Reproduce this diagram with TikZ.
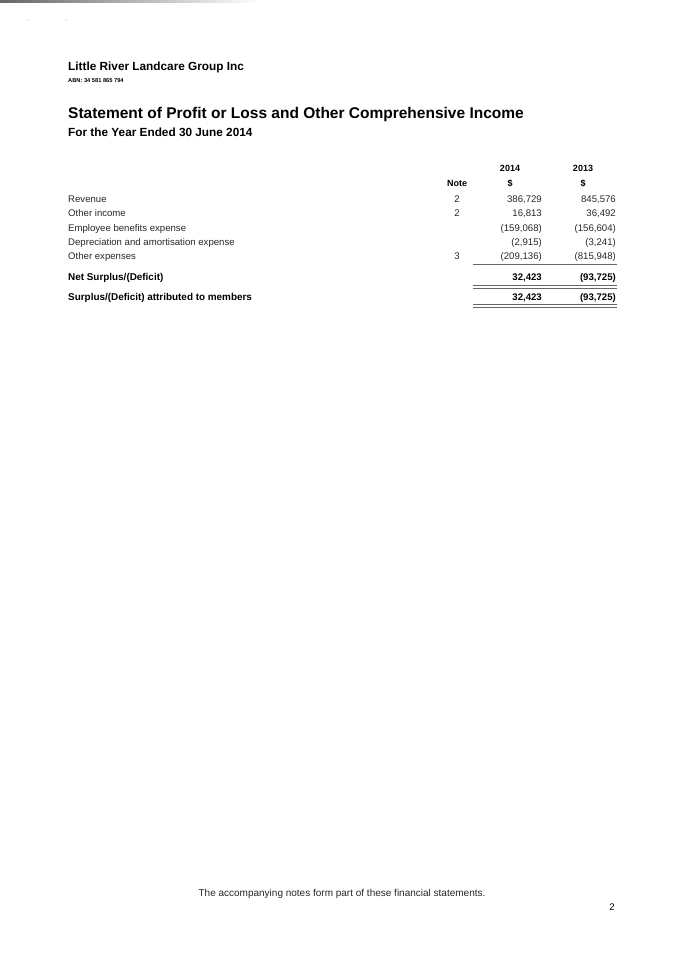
\documentclass[tikz,border=0pt]{standalone}
\usepackage{fontspec}
\setmainfont{Liberation Sans}
\begin{document}
\begin{tikzpicture}[x=1pt,y=-1pt,
  lbl/.style={anchor=base west,inner sep=0pt,font=\fontsize{9.6}{10}\selectfont,text=black!85},
  num/.style={anchor=base east,inner sep=0pt,font=\fontsize{9.6}{10}\selectfont,text=black!85},
  note/.style={anchor=base,inner sep=0pt,font=\fontsize{9.6}{10}\selectfont,text=black!85},
  hd/.style={anchor=base,inner sep=0pt,font=\bfseries\fontsize{9}{10}\selectfont},
  bl/.style={anchor=base west,inner sep=0pt,font=\bfseries\fontsize{9.9}{10}\selectfont},
  bn/.style={anchor=base east,inner sep=0pt,font=\bfseries\fontsize{9.6}{10}\selectfont},
  rule/.style={line width=1pt,black!60}]
\useasboundingbox (0,0) rectangle (683,963);
\fill[left color=black!60,right color=white] (0,1) rectangle (260,3);
\fill[black!50] (28,20) circle (0.5) (66,20) circle (0.5);
\node[anchor=base west,inner sep=0pt,font=\bfseries\fontsize{11.8}{13}\selectfont] (co) at (68,71) {Little River Landcare Group Inc};
\node[anchor=base west,inner sep=0pt,font=\bfseries\fontsize{5.7}{6}\selectfont] (abn) at (68,83) {ABN: 34 581 865 794};
\node[anchor=base west,inner sep=0pt,font=\bfseries\fontsize{15.5}{17}\selectfont] (ti) at (68,119) {Statement of Profit or Loss and Other Comprehensive Income};
\node[anchor=base west,inner sep=0pt,font=\bfseries\fontsize{11.8}{13}\selectfont] (sub) at (68,136) {For the Year Ended 30 June 2014};
\node[hd] (y1) at (510,171) {2014};
\node[hd] (y2) at (583,171) {2013};
\node[hd] (nh) at (457,186) {Note};
\node[hd] (d1) at (510,186) {\$};
\node[hd] (d2) at (583,186) {\$};
\foreach \n/\y/\t/\no/\va/\vb in {r1/202/Revenue/2/{386,729}/{845,576},
  r2/216/Other income/2/{16,813}/{36,492},
  r3/231/Employee benefits expense//{(159,068)}/{(156,604)},
  r4/245/Depreciation and amortisation expense//{(2,915)}/{(3,241)},
  r5/259/Other expenses/3/{(209,136)}/{(815,948)}}{
  \node[lbl] (\n l) at (68,\y) {\t};
  \node[note] (\n n) at (457,\y) {\no};
  \node[num] (\n a) at (542,\y) {\va};
  \node[num] (\n b) at (616,\y) {\vb};}
\draw[rule] (473,264) -- (617,264);
\node[bl] (s1) at (68,280) {Net Surplus/(Deficit)};
\node[bn] (s1a) at (542,280) {32,423};
\node[bn] (s1b) at (616,280) {(93,725)};
\draw[rule] (473,285.5) -- (617,285.5) (473,288) -- (617,288);
\node[bl] (s2) at (68,300) {Surplus/(Deficit) attributed to members};
\node[bn] (s2a) at (542,300) {32,423};
\node[bn] (s2b) at (616,300) {(93,725)};
\draw[rule] (473,304.5) -- (617,304.5) (473,307) -- (617,307);
\node[anchor=base,inner sep=0pt,font=\fontsize{10}{10}\selectfont,text=black!85] (ft) at (342,896) {The accompanying notes form part of these financial statements.};
\node[anchor=base,inner sep=0pt,font=\fontsize{9.6}{10}\selectfont] (pg) at (612,910) {2};
\end{tikzpicture}
\end{document}
